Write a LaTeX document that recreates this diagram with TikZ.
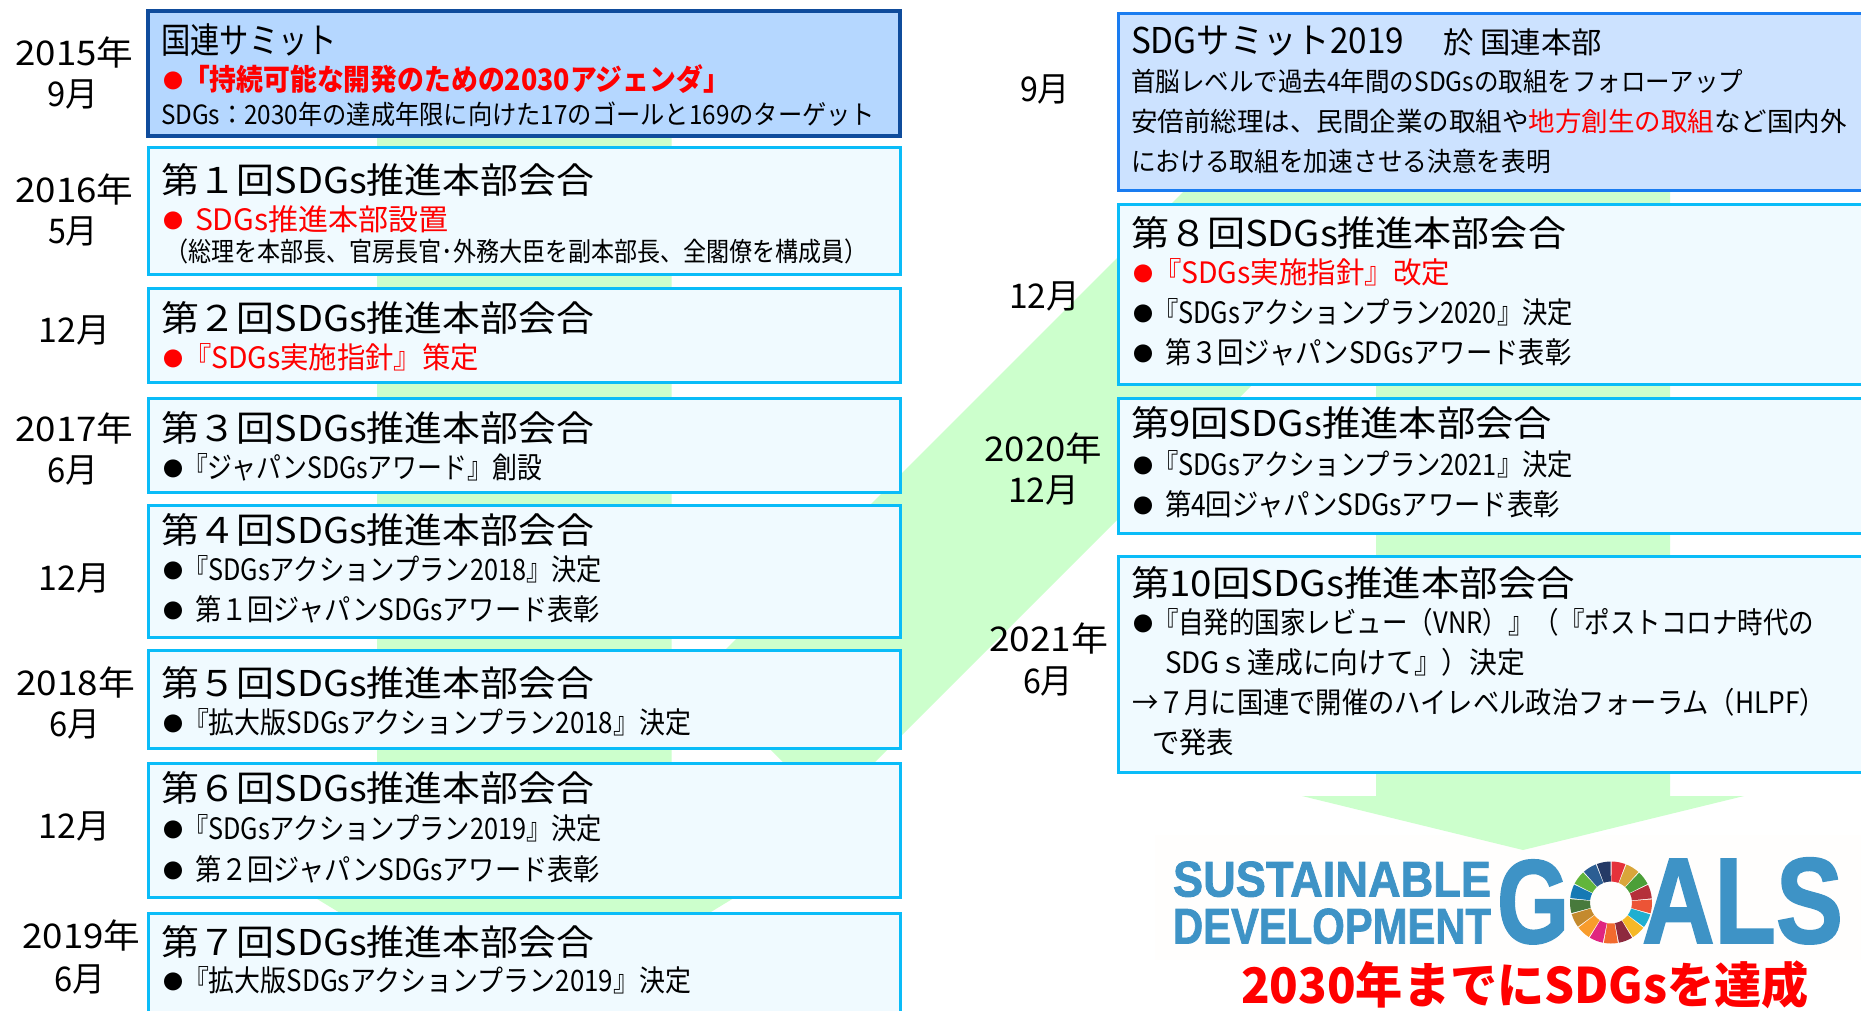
\documentclass[tikz,border=0pt]{standalone}
\usepackage{fontspec}
\usepackage{graphicx}
\setmainfont{Noto Sans CJK JP}
\newfontfamily\logofont{Liberation Sans}[BoldFeatures={FakeBold=1.6}]
\definecolor{grn}{HTML}{CCFFCC}
\definecolor{sumfill}{HTML}{B5D7FF}
\definecolor{sumline}{HTML}{0F4C9C}
\definecolor{sigfill}{HTML}{CCE2FF}
\definecolor{sigline}{HTML}{1A7CF0}
\definecolor{mtgfill}{HTML}{F0FAFF}
\definecolor{mtgline}{HTML}{0ABCF8}
\definecolor{logoblue}{HTML}{3E93C6}
\definecolor{logobg}{HTML}{FFFEFD}
\definecolor{sdgA}{HTML}{E5323B}
\definecolor{sdgB}{HTML}{D9A63A}
\definecolor{sdgC}{HTML}{4C9F38}
\definecolor{sdgD}{HTML}{B5303A}
\definecolor{sdgE}{HTML}{EC5436}
\definecolor{sdgF}{HTML}{1FAFD0}
\definecolor{sdgG}{HTML}{F6B826}
\definecolor{sdgH}{HTML}{8E2A3E}
\definecolor{sdgI}{HTML}{F26A2E}
\definecolor{sdgJ}{HTML}{E0257F}
\definecolor{sdgK}{HTML}{F89C2C}
\definecolor{sdgL}{HTML}{C48A2E}
\definecolor{sdgM}{HTML}{487A3C}
\definecolor{sdgN}{HTML}{1679B4}
\definecolor{sdgO}{HTML}{62B53C}
\definecolor{sdgP}{HTML}{2C5E93}
\definecolor{sdgQ}{HTML}{253A66}
\tikzset{
  txt/.style={inner sep=0pt,outer sep=0pt,anchor=base west,text=black},
  yr/.style={font=\fontsize{34}{34}\selectfont},
  hd/.style={font=\fontsize{35.5}{36}\selectfont},
  li/.style={font=\fontsize{29.5}{30}\selectfont},
  sm/.style={font=\fontsize{26.5}{27}\selectfont},
  red/.style={text=red},
  dot/.style={inner sep=0pt,outer sep=0pt,anchor=base west,font=\fontsize{20}{20}\selectfont},
  logot/.style={inner sep=0pt,outer sep=0pt,anchor=south west,text=logoblue,font=\logofont\bfseries\fontsize{30}{30}\selectfont},
  sumbox/.style={draw=sumline,fill=sumfill,line width=3.2pt},
  sigbox/.style={draw=sigline,fill=sigfill,line width=3pt},
  mtgbox/.style={draw=mtgline,fill=mtgfill,line width=3pt},
}
\newcommand{\tl}[6]{\node[txt,#5] (#1) at (#2,#4+1) {\resizebox{\dimexpr#3pt-#2pt\relax}{\height}{#6}};}
\newcommand{\bl}[4]{\node[dot,text=#4] (#1) at (#2,#3-1) {●};}
\newcommand{\logotxt}[6]{\node[logot] (#1) at (#2,#5) {\resizebox{\dimexpr#3pt-#2pt\relax}{\dimexpr#5pt-#4pt\relax}{#6}};}
\begin{document}
\begin{tikzpicture}[x=1pt,y=-1pt]
\path[use as bounding box,clip] (0,0) rectangle (1861,1010);
\fill[white] (0,0) rectangle (1861,1010);
\fill[logobg] (1155,835) rectangle (1861,960);
% green flow arrows
\fill[grn] (377,100) -- (671.5,100) -- (671.5,830) -- (845.5,830) -- (550,1010) -- (500,1010) -- (203.5,830) -- (377,830) -- cycle;
\fill[grn] (698,677) -- (1275,100) -- (1670,100) -- (1670,796) -- (1744,796) -- (1523,850) -- (1302,796) -- (1376,796) -- (1376,261) -- (829,808) -- cycle;
% boxes
\draw[sumbox] (148,11) rectangle (900,136);
\draw[mtgbox] (148,147.5) rectangle (900,274);
\draw[mtgbox] (148,288) rectangle (900,382);
\draw[mtgbox] (148,398) rectangle (900,492);
\draw[mtgbox] (148,505) rectangle (900,637);
\draw[mtgbox] (148,650) rectangle (900,748);
\draw[mtgbox] (148,763) rectangle (900,897);
\draw[mtgbox] (148,913) rectangle (900,1030);
\draw[sigbox] (1118,13.5) rectangle (1900,190);
\draw[mtgbox] (1118,204) rectangle (1900,384);
\draw[mtgbox] (1118,398) rectangle (1900,533);
\draw[mtgbox] (1118,556) rectangle (1900,772);
% left dates
\tl{y15}{15.5}{133.5}{64}{yr}{2015年}
\tl{m15}{47}{98}{105}{yr}{9月}
\tl{y16}{15.5}{133.5}{201}{yr}{2016年}
\tl{m16}{48}{98}{242}{yr}{5月}
\tl{m16b}{38.5}{110}{341}{yr}{12月}
\tl{y17}{15.5}{133.5}{440}{yr}{2017年}
\tl{m17}{47}{98}{481}{yr}{6月}
\tl{m17b}{38.5}{110}{589}{yr}{12月}
\tl{y18}{16.5}{135}{694}{yr}{2018年}
\tl{m18}{49}{100}{735}{yr}{6月}
\tl{m18b}{38.5}{110}{837}{yr}{12月}
\tl{y19}{22.5}{140.5}{947}{yr}{2019年}
\tl{m19}{54.5}{105.5}{990}{yr}{6月}
% left column
\tl{h0}{161}{337}{52}{hd}{国連サミット}
\bl{d0}{163}{89}{red}
\tl{a0}{183}{730}{89}{li,red}{\bfseries「持続可能な開発のための2030アジェンダ」}
\tl{b0}{161}{875}{123}{sm}{SDGs：2030年の達成年限に向けた17のゴールと169のターゲット}
\tl{h1}{161}{594}{192}{hd}{第１回SDGs推進本部会合}
\bl{d1}{163}{229}{red}
\tl{a1}{195}{449}{229}{li,red}{SDGs推進本部設置}
\tl{b1}{165}{868}{260}{sm}{（総理を本部長、官房長官･外務大臣を副本部長、全閣僚を構成員）}
\tl{h2}{161}{594}{330}{hd}{第２回SDGs推進本部会合}
\bl{d2}{163}{367}{red}
\tl{a2}{183}{479}{367}{li,red}{『SDGs実施指針』策定}
\tl{h3}{161}{594}{440}{hd}{第３回SDGs推進本部会合}
\bl{d3}{163}{477}{black}
\tl{a3}{183}{542}{477}{li}{『ジャパンSDGsアワード』創設}
\tl{h4}{161}{594}{542}{hd}{第４回SDGs推進本部会合}
\bl{d4}{163}{579}{black}
\tl{a4}{183}{602}{579}{li}{『SDGsアクションプラン2018』決定}
\bl{e4}{163}{619}{black}
\tl{c4}{195}{600}{619}{li}{第１回ジャパンSDGsアワード表彰}
\tl{h5}{161}{594}{695}{hd}{第５回SDGs推進本部会合}
\bl{d5}{163}{732}{black}
\tl{a5}{183}{691}{732}{li}{『拡大版SDGsアクションプラン2018』決定}
\tl{h6}{161}{594}{800}{hd}{第６回SDGs推進本部会合}
\bl{d6}{163}{838}{black}
\tl{a6}{183}{602}{838}{li}{『SDGsアクションプラン2019』決定}
\bl{e6}{163}{879}{black}
\tl{c6}{195}{600}{879}{li}{第２回ジャパンSDGsアワード表彰}
\tl{h7}{161}{594}{954}{hd}{第７回SDGs推進本部会合}
\bl{d7}{163}{990}{black}
\tl{a7}{183}{691}{990}{li}{『拡大版SDGsアクションプラン2019』決定}
% right dates
\tl{m19b}{1020}{1070}{100}{yr}{9月}
\tl{m19c}{1009}{1080}{307}{yr}{12月}
\tl{y20}{984.5}{1102}{460}{yr}{2020年}
\tl{m20}{1008}{1079}{501}{yr}{12月}
\tl{y21}{989}{1108}{650}{yr}{2021年}
\tl{m21}{1023}{1073}{692}{yr}{6月}
% right column
\tl{r0}{1131}{1404}{52}{hd}{SDGサミット2019}
\tl{r0b}{1443}{1602}{52}{li}{於 国連本部}
\tl{r0c}{1131}{1743}{90}{sm}{首脳レベルで過去4年間のSDGsの取組をフォローアップ}
\tl{r0d}{1131}{1847}{130}{sm}{安倍前総理は、民間企業の取組や\textcolor{red}{地方創生の取組}など国内外}
\tl{r0e}{1131}{1551}{170}{sm}{における取組を加速させる決意を表明}
\tl{r1}{1131}{1566}{245}{hd}{第８回SDGs推進本部会合}
\bl{dr1}{1133}{282}{red}
\tl{r1a}{1153}{1450}{282}{li,red}{『SDGs実施指針』改定}
\bl{er1}{1133}{322}{black}
\tl{r1b}{1153}{1573}{322}{li}{『SDGsアクションプラン2020』決定}
\bl{fr1}{1133}{362}{black}
\tl{r1c}{1165}{1571.5}{362}{li}{第３回ジャパンSDGsアワード表彰}
\tl{r2}{1131}{1552}{435}{hd}{第9回SDGs推進本部会合}
\bl{dr2}{1133}{474}{black}
\tl{r2a}{1153}{1573}{474}{li}{『SDGsアクションプラン2021』決定}
\bl{er2}{1133}{514}{black}
\tl{r2b}{1165}{1560}{514}{li}{第4回ジャパンSDGsアワード表彰}
\tl{r3}{1131}{1575}{595}{hd}{第10回SDGs推進本部会合}
\bl{dr3}{1133}{632}{black}
\tl{r3a}{1153}{1814}{632}{li}{『自発的国家レビュー（VNR）』（『ポストコロナ時代の}
\tl{r3b}{1165}{1525}{672}{li}{SDGｓ達成に向けて』）決定}
\tl{r3c}{1132}{1826}{712}{li}{→７月に国連で開催のハイレベル政治フォーラム（HLPF）}
\tl{r3d}{1152}{1234}{752}{li}{で発表}
% logo
\logotxt{lg1}{1173}{1491}{862}{897}{SUSTAINABLE}
\logotxt{lg2}{1173}{1491}{909}{944}{DEVELOPMENT}
\logotxt{lg3}{1497}{1569}{861}{944}{G}
\logotxt{lg4}{1642}{1843}{859}{944}{ALS}
\begin{scope}[shift={(1611,902.5)}]
\foreach \c [count=\i from 0] in {sdgA,sdgB,sdgC,sdgD,sdgE,sdgF,sdgG,sdgH,sdgI,sdgJ,sdgK,sdgL,sdgM,sdgN,sdgO,sdgP,sdgQ}{
  \pgfmathsetmacro{\aa}{89-\i*21.176}
  \pgfmathsetmacro{\ab}{\aa-19.6}
  \fill[\c] (\aa:41pt) arc[start angle=\aa,end angle=\ab,radius=41pt] -- (\ab:21pt) arc[start angle=\ab,end angle=\aa,radius=21pt] -- cycle;
}
\end{scope}
\tl{goal}{1241}{1809}{1002}{font=\fontsize{49}{49}\selectfont,red}{\bfseries 2030年までにSDGsを達成}
\end{tikzpicture}
\end{document}
